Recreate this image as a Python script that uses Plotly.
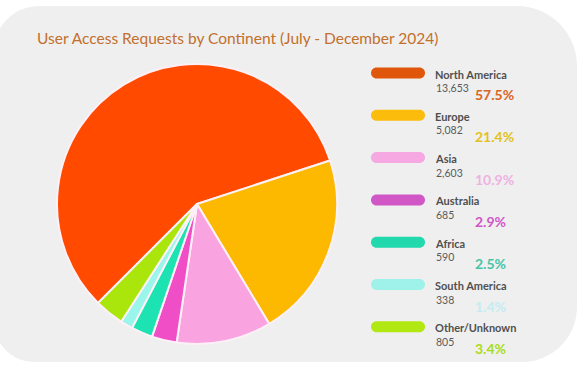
import plotly.graph_objects as go

# ---- data ----
continents = ["North America", "Europe", "Asia", "Australia", "Africa", "South America", "Other/Unknown"]
requests = [13653, 5082, 2603, 685, 590, 338, 805]
count_labels = ["13,653", "5,082", "2,603", "685", "590", "338", "805"]
pct_labels = ["57.5%", "21.4%", "10.9%", "2.9%", "2.5%", "1.4%", "3.4%"]
title_text = "User Access Requests by Continent (July - December 2024)"

# ---- styles ----
slice_colors = ["#ff4a00", "#fcb900", "#f9a3e0", "#f04ec6", "#1de3b3", "#9af5ea", "#aae60c"]
pill_colors = ["#e0560a", "#fbbc0c", "#f5a8e2", "#d257c6", "#22d8ad", "#9ff2e9", "#b2e812"]
pct_colors = ["#d9661f", "#e2c21a", "#eeb2e2", "#cf56c6", "#45c4a8", "#c4ecf0", "#a9dc1a"]

W, H = 582, 369
FONT = "Lato"


def rounded_path(x0, y0, x1, y1, r_tl, r_tr, r_br, r_bl):
    k = 0.5523
    p = f"M {x0 + r_tl},{y0} L {x1 - r_tr},{y0} "
    p += f"C {x1 - r_tr + k * r_tr},{y0} {x1},{y0 + r_tr - k * r_tr} {x1},{y0 + r_tr} "
    p += f"L {x1},{y1 - r_br} "
    p += f"C {x1},{y1 - r_br + k * r_br} {x1 - r_br + k * r_br},{y1} {x1 - r_br},{y1} "
    p += f"L {x0 + r_bl},{y1} "
    p += f"C {x0 + r_bl - k * r_bl},{y1} {x0},{y1 - r_bl + k * r_bl} {x0},{y1 - r_bl} "
    p += f"L {x0},{y0 + r_tl} "
    p += f"C {x0},{y0 + r_tl - k * r_tl} {x0 + r_tl - k * r_tl},{y0} {x0 + r_tl},{y0} Z"
    return p


fig = go.Figure()

# pie: center (197,204), radius 140
cx, cy, rad = 197, 204, 140
fig.add_trace(go.Pie(
    labels=continents,
    values=requests,
    sort=False,
    direction="clockwise",
    rotation=225,
    textinfo="none",
    hoverinfo="label+value+percent",
    marker=dict(colors=slice_colors, line=dict(color="#fdf0f6", width=2)),
    domain=dict(x=[(cx - rad) / W, (cx + rad) / W], y=[1 - (cy + rad) / H, 1 - (cy - rad) / H]),
    showlegend=False,
))

shapes = []
# card background
shapes.append(dict(type="path", xref="x", yref="y", layer="below",
                   path=rounded_path(-6, 6, 577, 362, 45, 60, 55, 40),
                   fillcolor="#efefef", line=dict(width=0)))

annotations = [dict(
    text=title_text, x=35, y=38, xref="x", yref="y", xanchor="left", yanchor="middle",
    showarrow=False, font=dict(family=FONT, size=15.5, color="#c2702c"),
)]

y_start, step = 73, 42.3
for i, name in enumerate(continents):
    yc = y_start + i * step
    px0, px1, ph = 371, 425, 11
    r = ph / 2
    shapes.append(dict(type="path", xref="x", yref="y",
                       path=rounded_path(px0, yc - r, px1, yc + r, r, r, r, r),
                       fillcolor=pill_colors[i], line=dict(width=0)))
    annotations.append(dict(text=f"<b>{name}</b>", x=433, y=yc + 1, xref="x", yref="y",
                            xanchor="left", yanchor="middle", showarrow=False,
                            font=dict(family=FONT, size=11, color="#4f4f4f")))
    annotations.append(dict(text=count_labels[i], x=434, y=yc + 15, xref="x", yref="y",
                            xanchor="left", yanchor="middle", showarrow=False,
                            font=dict(family=FONT, size=10.5, color="#5a5a5a")))
    annotations.append(dict(text=f"<b>{pct_labels[i]}</b>", x=473, y=yc + 21.5, xref="x", yref="y",
                            xanchor="left", yanchor="middle", showarrow=False,
                            font=dict(family=FONT, size=14, color=pct_colors[i])))

fig.update_layout(
    width=W, height=H,
    margin=dict(l=0, r=0, t=0, b=0),
    paper_bgcolor="white", plot_bgcolor="rgba(0,0,0,0)",
    xaxis=dict(range=[0, W], visible=False, fixedrange=True),
    yaxis=dict(range=[H, 0], visible=False, fixedrange=True),
    shapes=shapes,
    annotations=annotations,
    showlegend=False,
)

fig.write_html("out.html", config={"displayModeBar": False},
               post_script="document.body.style.margin='0';")
